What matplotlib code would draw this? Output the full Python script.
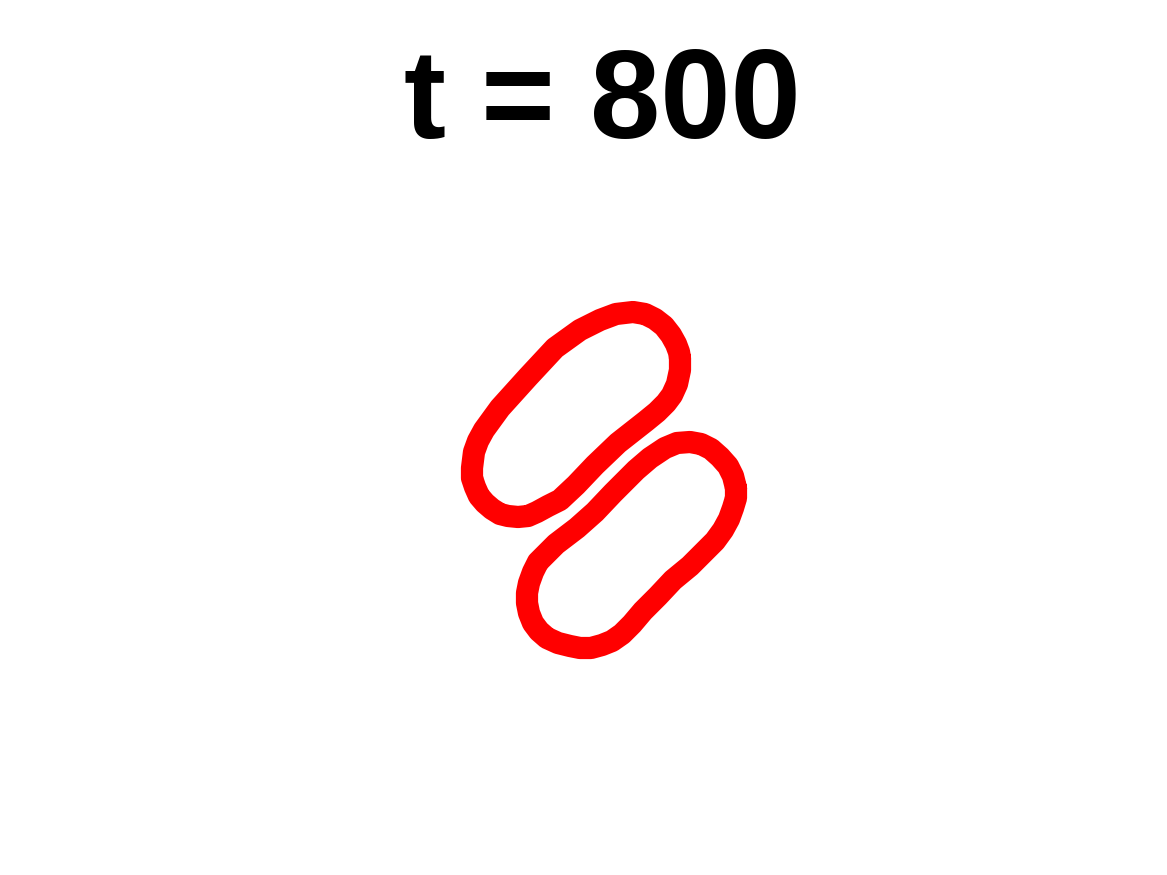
import matplotlib
matplotlib.use('Agg')
import matplotlib.pyplot as plt
from matplotlib import font_manager

# centerline of each closed curve (pixel-like units, y down)
upper_x = [680, 680, 677, 672, 666, 657, 646, 618, 595, 576, 560, 548, 537, 528,
           518, 508, 500, 492, 485, 479, 475, 472, 472, 474, 478, 484, 500, 528,
           555, 580, 590, 600, 616, 633, 645, 655, 664, 671, 676, 679, 680]
upper_y = [358, 370, 384, 395, 403, 412, 421, 443, 465, 485, 500, 506, 512, 516,
           517, 516, 514, 509, 503, 496, 487, 478, 468, 452, 441, 430, 408, 377,
           348, 330, 325, 320, 314, 312, 314, 319, 326, 335, 344, 352, 358]

lower_x = [736, 736, 733, 729, 723, 715, 705, 690, 673, 658, 643, 632, 622, 612,
           602, 591, 580, 570, 558, 547, 539, 533, 529, 527, 527, 529, 533, 538,
           556, 577, 595, 613, 636, 650, 665, 677, 690, 701, 711, 720, 728, 733, 736]
lower_y = [488, 498, 508, 519, 530, 541, 551, 566, 580, 596, 611, 624, 634, 641,
           645, 648, 648, 646, 643, 638, 631, 623, 613, 603, 593, 583, 572, 562,
           544, 528, 512, 493, 470, 458, 448, 443, 442, 444, 449, 457, 466, 476, 488]

title = 't = 800'

# regular-width Liberation Sans Bold (skip the Narrow cut)
title_font = font_manager.FontProperties(family='DejaVu Sans', weight='bold')
for f in font_manager.fontManager.ttflist:
    if f.name == 'Liberation Sans' and f.weight in (700, 'bold') and f.style == 'normal' \
            and 'Narrow' not in f.fname:
        title_font = font_manager.FontProperties(fname=f.fname)
        break
title_font.set_size(91)

fig = plt.figure(figsize=(11.67, 8.75), dpi=100)
ax = fig.add_axes([0, 0, 1, 1])
ax.set_xlim(0, 1167)
ax.set_ylim(875, 0)
ax.axis('off')

for xs, ys in [(upper_x, upper_y), (lower_x, lower_y)]:
    ax.plot(xs, ys, color='red', lw=16,
            solid_joinstyle='round', solid_capstyle='round')

fig.text(0.5163, 0.8423, title, ha='center', va='baseline',
         fontproperties=title_font)

fig.savefig('out.png', dpi=100)
